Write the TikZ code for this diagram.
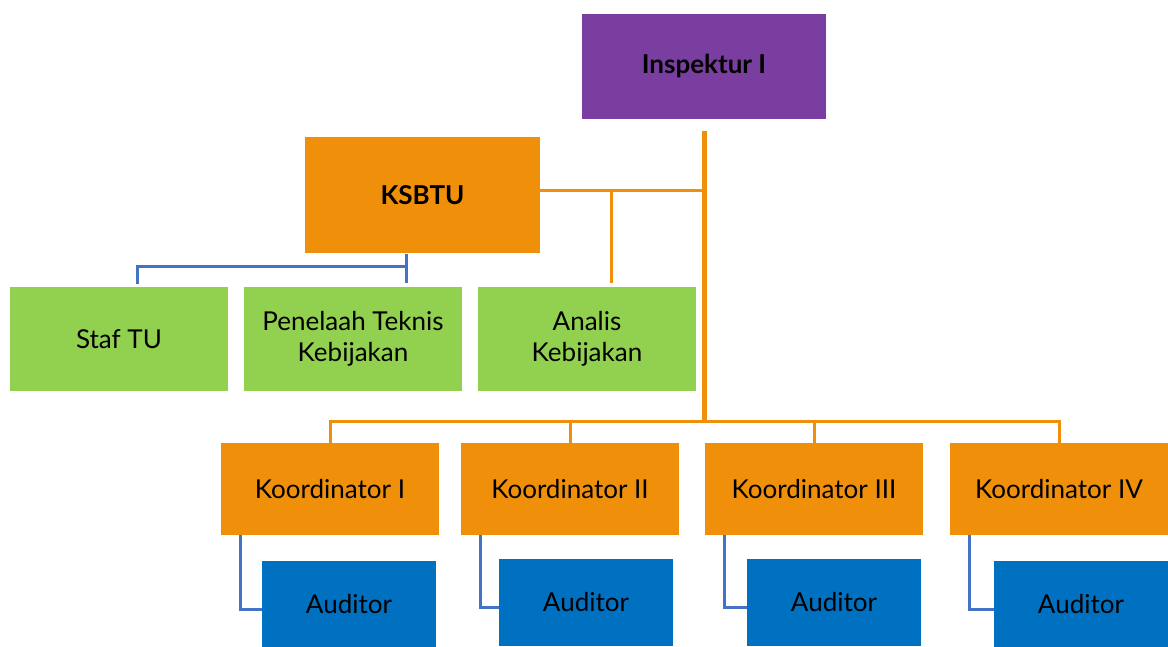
\documentclass[tikz,border=0pt]{standalone}
\usepackage{fontspec}
\setmainfont{Lato}
\definecolor{ungu}{HTML}{7A3DA0}
\definecolor{oranye}{HTML}{F0900A}
\definecolor{hijau}{HTML}{92D050}
\definecolor{biru}{HTML}{0070C0}
\definecolor{garisbiru}{HTML}{4472C4}
\begin{document}
\begin{tikzpicture}[x=1pt,y=-1pt,
  box/.style={inner sep=0pt,align=center,font=\fontsize{26}{31}\selectfont},
  kepala/.style={box,fill=ungu,minimum width=244pt,minimum height=105pt,font=\fontsize{26}{31}\selectfont\bfseries},
  sekre/.style={box,fill=oranye,minimum width=235pt,minimum height=116pt,font=\fontsize{26}{31}\selectfont\bfseries},
  staf/.style={box,fill=hijau,minimum width=218pt,minimum height=104pt},
  koor/.style={box,fill=oranye,minimum width=218pt,minimum height=92pt},
  audit/.style={box,fill=biru,minimum width=174pt,minimum height=87pt},
  jalur/.style={draw=oranye,line width=3pt},
  batang/.style={draw=oranye,line width=5pt},
  jalurbiru/.style={draw=garisbiru,line width=3pt}]
\useasboundingbox (0,0) rectangle (1168,647);
% kotak
\node [kepala] (insp) at (704,66.5) {Inspektur I};
\node [sekre] (ksbtu) at (422.5,195) {KSBTU};
\node [staf] (staftu) at (119,339) {Staf TU};
\node [staf] (penelaah) at (353,339) {Penelaah Teknis\\Kebijakan};
\node [staf] (analis) at (587,339) {Analis\\Kebijakan};
\node [koor] (k1) at (330,489) {Koordinator I};
\node [koor] (k2) at (570,489) {Koordinator II};
\node [koor] (k3) at (814,489) {Koordinator III};
\node [koor] (k4) at (1059,489) {Koordinator IV};
\node [audit] (a1) at (349,604) {Auditor};
\node [audit] (a2) at (586,602.5) {Auditor};
\node [audit] (a3) at (834,602.5) {Auditor};
\node [audit] (a4) at (1081,604) {Auditor};
% titik bantu
\coordinate (atas) at ([yshift=-12pt]insp.south);
\coordinate (bawah) at (704,421);
\coordinate (cabang) at ([xshift=24pt,yshift=4pt]analis.north);
\coordinate (kanan) at ([yshift=4pt]ksbtu.east);
\coordinate (tu) at ([xshift=-16.5pt,yshift=-1pt]ksbtu.south);
\coordinate (tukiri) at (137,267);
% garis oranye
\draw [batang] (atas) -- (bawah);
\draw [jalur] (kanan) -- (kanan -| atas);
\draw [jalur] (cabang) -- (cabang |- kanan);
\draw [jalur] (k1.north) |- (bawah) -| (k4.north);
\draw [jalur] (k2.north) -- (k2.north |- bawah);
\draw [jalur] (k3.north) -- (k3.north |- bawah);
% garis biru
\draw [jalurbiru] ([yshift=3pt]staftu.north -| tukiri) -- (tukiri) -- (tukiri -| tu);
\draw [jalurbiru] (tu) -- ([yshift=4pt]penelaah.north -| tu);
\foreach \k/\a in {k1/a1,k2/a2,k3/a3,k4/a4}
  \draw [jalurbiru] ([xshift=20pt]\k.south west) |- ([yshift=-5pt]\a.west);
\end{tikzpicture}
\end{document}
